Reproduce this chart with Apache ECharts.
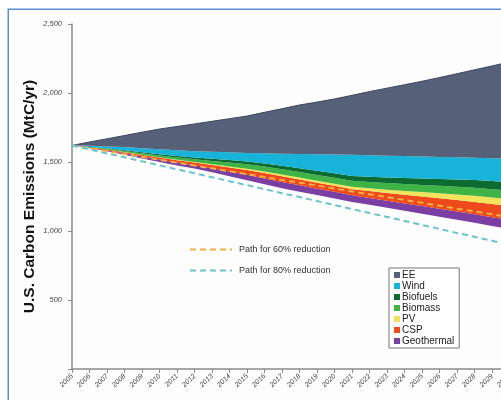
<!DOCTYPE html>
<html>
<head>
<meta charset="utf-8">
<script src="https://cdn.jsdelivr.net/npm/echarts@6/dist/echarts.min.js"></script>
<style>
html,body{margin:0;padding:0;background:#fff;overflow:hidden;width:501px;height:400px;}
#c{position:absolute;left:0;top:0;width:530px;height:400px;}
</style>
</head>
<body>
<div id="c"></div>
<script>
const years = ['2005','2006','2007','2008','2009','2010','2011','2012','2013','2014','2015','2016','2017','2018','2019','2020','2021','2022','2023','2024','2025','2026','2027','2028','2029','2030'];
const remaining = [1620,1600,1578,1552,1525,1500,1475,1452,1425,1397,1368,1338,1310,1285,1260,1236,1211,1190,1168,1146,1125,1103,1082,1060,1036,1015];
const geothermal = [0,3,7,11,15,18,21,24,29,34,39,43,45,46,47,48,48,50,52,54,56,58,60,62,64,66];
const csp = [0,2,5,8,11,14,17,20,25,30,35,40,41,42,42,43,44,49,55,62,69,76,83,89,95,100];
const pv = [0,0,1,1,2,2,3,4,5,7,9,11,13,14,15,16,17,20,24,28,32,36,40,44,48,51];
const biomass = [0,2,5,8,11,14,17,20,24,28,32,35,38,40,42,43,44,46,48,50,52,54,56,58,60,61];
const biofuels = [0,1,3,5,7,9,10,12,15,18,21,23,26,28,31,33,35,38,41,44,47,50,53,56,59,61];
const wind = [0,9,14,23,29,36,43,46,51,56,62,73,87,103,119,135,153,156,158,159,159,160,160,162,166,172];
const ee = [0,28,55,84,116,146,171,198,221,244,267,297,326,355,378,403,431,461,489,517,545,575,606,637,668,699];
const path60 = [1620,1599,1578,1558,1537,1516,1495,1474,1454,1433,1412,1391,1370,1350,1329,1308,1287,1266,1246,1225,1204,1183,1162,1142,1121,1100];
const path80 = [1620,1591,1562,1534,1505,1476,1447,1418,1390,1361,1332,1303,1274,1246,1217,1188,1159,1130,1102,1073,1044,1015,986,958,929,900];
const yTicks = ['', '500', '1,000', '1,500', '2,000', '2,500'];

const wedges = [
  {name:'Geothermal', data:geothermal, color:'#7b3ea3'},
  {name:'CSP', data:csp, color:'#ee4a1c'},
  {name:'PV', data:pv, color:'#f2e45a'},
  {name:'Biomass', data:biomass, color:'#3fb345'},
  {name:'Biofuels', data:biofuels, color:'#0b6b30'},
  {name:'Wind', data:wind, color:'#17b3d8'},
  {name:'EE', data:ee, color:'#566079'}
];
const dashIcon = 'path://M0 0h6v2H0zM10 0h6v2h-6zM20 0h6v2h-6zM30 0h6v2h-6zM40 0h2v2h-2z';

const chart = echarts.init(document.getElementById('c'), null, {renderer:'canvas'});
const series = [{
  name:'base', type:'line', stack:'s', data:remaining, symbol:'none',
  lineStyle:{width:0}, areaStyle:{opacity:0}, silent:true
}];
wedges.forEach(w => {
  series.push({
    name:w.name, type:'line', stack:'s', data:w.data, symbol:'none',
    itemStyle:{color:w.color},
    lineStyle:{width: w.name==='EE' ? 1 : 0, color: w.name==='EE' ? '#3c465e' : w.color},
    areaStyle:{color:w.color, opacity:1}
  });
});
series.push({
  name:'Path for 60% reduction', type:'line', data:path60, symbol:'none', z:5,
  itemStyle:{color:'#f3ae45'},
  lineStyle:{color:'#f3ae45', width:2, type:[6,4]}
});
series.push({
  name:'Path for 80% reduction', type:'line', data:path80, symbol:'none', z:5,
  itemStyle:{color:'#6cc4c8'},
  lineStyle:{color:'#6cc4c8', width:2, type:[6,4]}
});

chart.setOption({
  animation:false,
  backgroundColor:'transparent',
  graphic:[{
    type:'rect', left:7.5, top:8.5, shape:{x:0,y:0,width:700,height:700},
    style:{fill:'#fdfdfd', stroke:'#5b8ed0', lineWidth:1.5}, z:-10, silent:true
  }],
  grid:{left:72, right:20.5, top:24, bottom:31},
  legend:[{
    data:['EE','Wind','Biofuels','Biomass','PV','CSP','Geothermal'],
    orient:'vertical', left:389, top:268,
    icon:'rect', itemWidth:6, itemHeight:6, itemGap:1,
    padding:[2,5,2,5],
    borderColor:'#777', borderWidth:1, backgroundColor:'#fff',
    textStyle:{fontFamily:'Liberation Sans', fontSize:10, color:'#222', lineHeight:10, padding:[0,0,0,-3]}
  },{
    data:[{name:'Path for 60% reduction', icon:dashIcon},{name:'Path for 80% reduction', icon:dashIcon}],
    orient:'vertical', left:185, top:239,
    itemWidth:42, itemHeight:2, itemGap:10,
    textStyle:{fontFamily:'Liberation Sans', fontSize:9, color:'#333', lineHeight:11, padding:[0,0,0,2]}
  }],
  xAxis:{
    type:'category', data:years, boundaryGap:false,
    axisLine:{lineStyle:{color:'#8a8a8a', width:1.5}},
    axisTick:{show:true, length:4, lineStyle:{color:'#8a8a8a'}, interval:0},
    axisLabel:{interval:0, rotate:45, fontSize:7, fontStyle:'italic', color:'#444', margin:6, fontFamily:'Liberation Sans'}
  },
  yAxis:{
    type:'value', min:0, max:2500, interval:500,
    name:'U.S. Carbon Emissions (MtC/yr)', nameLocation:'middle', nameGap:34, nameMoveOverlap:false,
    nameTextStyle:{fontFamily:'Liberation Sans', fontWeight:'bold', fontSize:15.5, color:'#111'},
    axisLine:{show:true, lineStyle:{color:'#8a8a8a', width:1.5}},
    axisTick:{show:true, length:4, lineStyle:{color:'#8a8a8a'}},
    splitLine:{show:false},
    axisLabel:{fontSize:7.5, fontStyle:'italic', color:'#444', margin:10, fontFamily:'Liberation Sans',
      formatter:(v)=>yTicks[Math.round(v/500)]}
  },
  series:series
});
</script>
</body>
</html>
